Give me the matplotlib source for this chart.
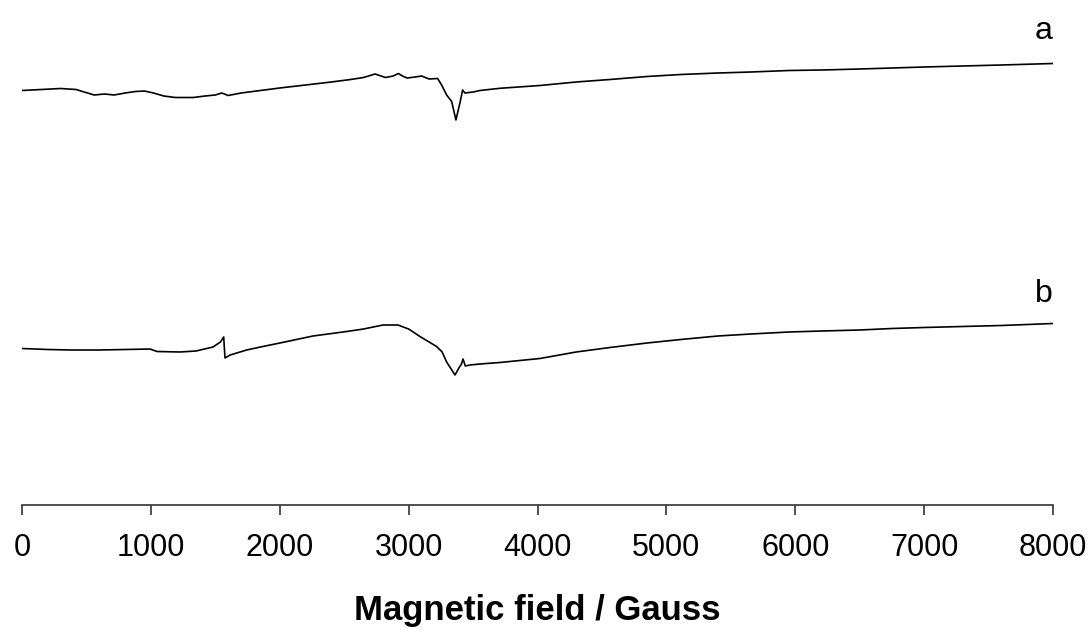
import matplotlib
matplotlib.use("Agg")
import matplotlib.pyplot as plt

plt.rcParams['font.family'] = ['Liberation Sans', 'DejaVu Sans']

# spectrum a (field in Gauss, intensity in arbitrary units)
field_a = [0, 150, 300, 420, 470, 560, 640, 715, 800, 880, 950, 1020, 1100, 1190,
           1260, 1330, 1420, 1500, 1550, 1600, 1700, 1850, 2000, 2200, 2400, 2550,
           2650, 2740, 2820, 2880, 2920, 2960, 2990, 3050, 3100, 3160, 3225, 3256,
           3295, 3334, 3367, 3398, 3419, 3437, 3500, 3553, 3708, 4019, 4300, 4562,
           4850, 5112, 5400, 5656, 5950, 6206, 6500, 6750, 7000, 7296, 7600, 8000]
signal_a = [414.5, 415.5, 416.5, 415.5, 413.5, 410, 411, 410, 412, 413.5, 414, 412,
            409, 407.5, 407.5, 407.5, 409, 410, 412, 409.5, 412, 414.5, 417, 420,
            423, 425.5, 427.5, 431, 427.5, 429, 431.5, 428.5, 427, 428, 429, 426,
            426.5, 420, 410, 403.5, 385, 402, 415, 412, 413, 414.5, 416.7, 419.5,
            423, 425.5, 428.5, 430.5, 432, 433, 434.5, 435, 436, 437, 438, 439, 440,
            441.5]

# spectrum b
field_b = [0, 200, 382, 600, 800, 993, 1048, 1226, 1350, 1482, 1540, 1565, 1575,
           1615, 1743, 1850, 2001, 2258, 2519, 2650, 2801, 2917, 3000, 3088, 3217,
           3260, 3295, 3330, 3360, 3390, 3410, 3422, 3440, 3476, 3554, 3708, 4019,
           4300, 4562, 4850, 5112, 5400, 5656, 5950, 6206, 6500, 6750, 7000, 7296,
           7600, 8000]
signal_b = [156.5, 155.5, 155, 155, 155.5, 156, 153.5, 153, 154, 158, 163, 168, 147,
            150, 155, 158, 162, 169, 173.5, 176, 180, 180, 176, 168.5, 158.5, 153,
            143, 136, 130, 137, 141, 146, 139, 140, 141, 142.5, 146.5, 153, 157.5,
            162, 165.5, 169, 171, 173, 174, 175, 176.5, 177.5, 178.5, 179.5, 181.5]

xticks = [0, 1000, 2000, 3000, 4000, 5000, 6000, 7000, 8000]

fig = plt.figure(figsize=(10.92, 6.36), dpi=100)
ax = fig.add_axes([22 / 1092, 131 / 636, 1031 / 1092, 505 / 636])

ax.plot(field_a, signal_a, color='black', lw=1.2)
ax.plot(field_b, signal_b, color='black', lw=1.2)

ax.text(8000, 466, 'a', ha='right', va='baseline', fontsize=23)
ax.text(8000, 203, 'b', ha='right', va='baseline', fontsize=23)

ax.set_xlim(0, 8000)
ax.set_ylim(0, 505)
ax.set_xticks(xticks)
ax.set_yticks([])
for s in ['top', 'right', 'left']:
    ax.spines[s].set_visible(False)
ax.spines['bottom'].set_color('#333333')
ax.spines['bottom'].set_linewidth(1.2)
ax.tick_params(axis='x', direction='out', length=7.5, width=1.2, color='#333333',
               labelsize=22, pad=13)
ax.set_xlabel('Magnetic field / Gauss', fontsize=25, fontweight='bold', labelpad=22)

fig.savefig('out.png', dpi=100)
